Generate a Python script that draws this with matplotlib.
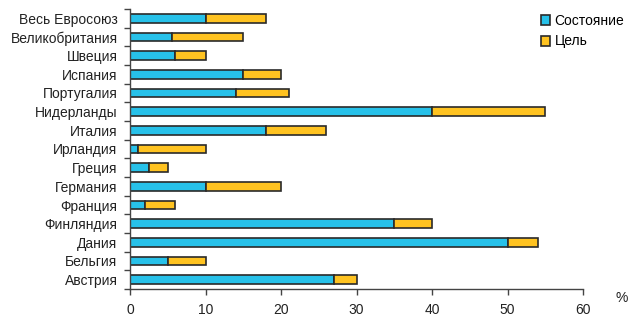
import matplotlib
matplotlib.use("Agg")
import matplotlib.pyplot as plt
import numpy as np

categories = ["Весь Евросоюз", "Великобритания", "Швеция", "Испания", "Португалия",
              "Нидерланды", "Италия", "Ирландия", "Греция", "Германия", "Франция",
              "Финляндия", "Дания", "Бельгия", "Австрия"]
state = [10, 5.5, 6, 15, 14, 40, 18, 1, 2.5, 10, 2, 35, 50, 5, 27]
total = [18, 15, 10, 20, 21, 55, 26, 10, 5, 20, 6, 40, 54, 10, 30]
goal = [t - s for t, s in zip(total, state)]
series_names = ["Состояние", "Цель"]
xticks = [0, 10, 20, 30, 40, 50, 60]

plt.rcParams['font.family'] = ['Liberation Sans', 'DejaVu Sans']

fig = plt.figure(figsize=(6.38, 3.28), dpi=100)
ax = fig.add_axes([130/638, 1 - 289/328, (583-130)/638, (289-9)/328])

n = len(categories)
y = np.arange(n)[::-1]
cyan = "#27C1E9"
yellow = "#FFC321"
edge = "#2a2a2a"
h = 0.45
fs = 10
ax.barh(y, state, height=h, color=cyan, edgecolor=edge, linewidth=1.2, label=series_names[0])
ax.barh(y, goal, left=state, height=h, color=yellow, edgecolor=edge, linewidth=1.2, label=series_names[1])

ax.set_xlim(0, 60)
ax.set_ylim(-0.5, n - 0.5)
ax.set_xticks(xticks)
ax.set_xticklabels([str(v) for v in xticks], fontsize=fs, color="#222")
ax.set_yticks(y)
ax.set_yticklabels(categories, fontsize=fs, color="#222")
ax.set_yticks(np.arange(-0.5, n, 1), minor=True)
ax.tick_params(axis='y', which='major', length=0, pad=9)
ax.tick_params(axis='y', which='minor', length=4, width=1, color="#444", direction='out')
ax.tick_params(axis='x', length=4, width=1, color="#444", pad=6)
for s in ["top", "right"]:
    ax.spines[s].set_visible(False)
for s in ["left", "bottom"]:
    ax.spines[s].set_color("#444")
    ax.spines[s].set_linewidth(1.0)

fig.text(622/638, 1 - 298/328, "%", fontsize=fs, ha="center", va="center", color="#222")

leg = ax.legend(loc="upper left", bbox_to_anchor=(535/638, 1 - 8/328), bbox_transform=fig.transFigure,
                frameon=False, fontsize=fs, handlelength=0.7, handleheight=0.7,
                handletextpad=0.3, labelspacing=0.5, borderaxespad=0)

fig.savefig("out.png", dpi=100)
